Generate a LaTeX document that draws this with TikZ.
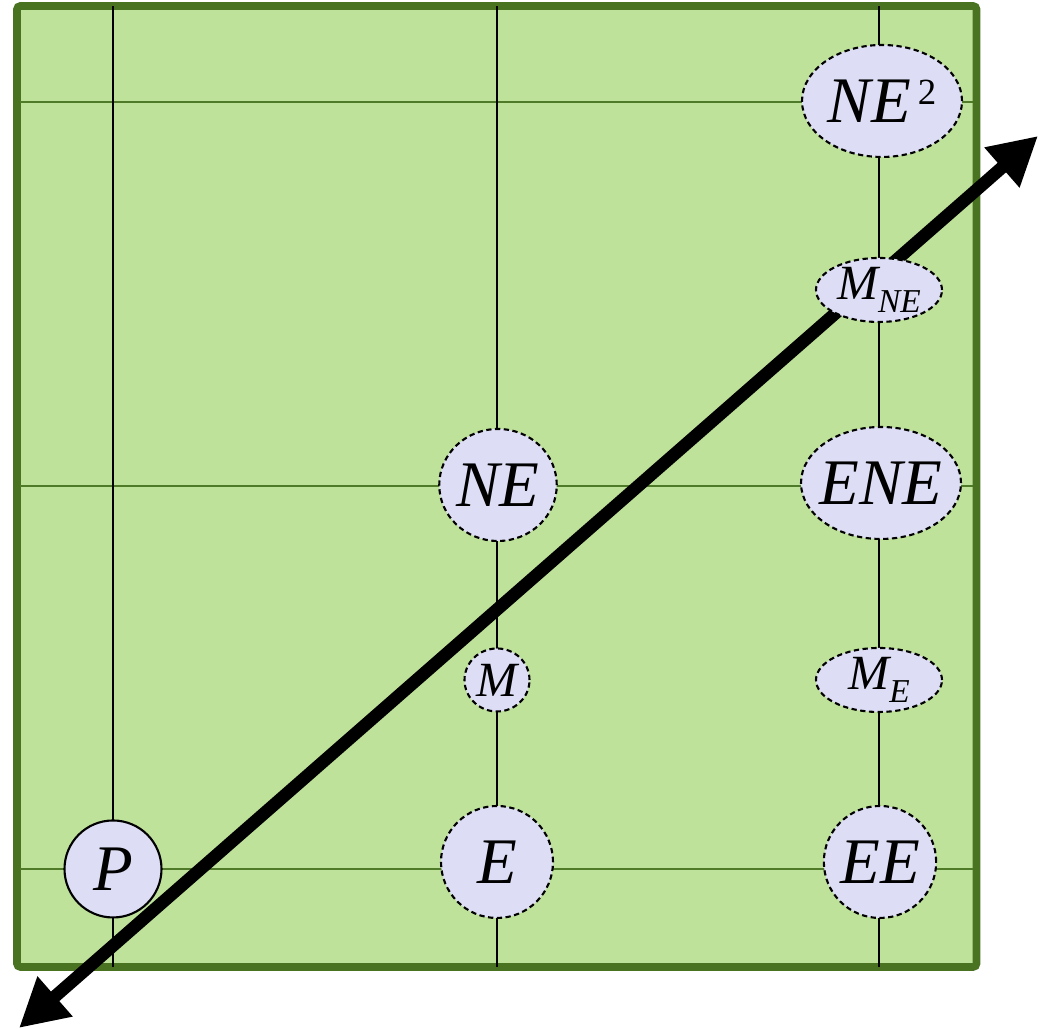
\documentclass[tikz,border=0pt]{standalone}
\usepackage{fontspec}
\setmainfont{Liberation Serif}
\usepackage{xcolor}
\usetikzlibrary{shapes.geometric,arrows.meta}
\definecolor{gridfill}{HTML}{BFE29B}
\definecolor{gridborder}{HTML}{4A7321}
\definecolor{gridrow}{HTML}{4F7A28}
\definecolor{pixfill}{HTML}{DDDEF5}
\newcommand{\lowtext}[1]{\raisebox{-3.6pt}{\fontsize{9.5}{10}\selectfont\textit{#1}}}

\begin{document}
\begin{tikzpicture}[
    pixel/.style={ellipse,fill=pixfill,draw=black,line width=0.6pt,
      dash pattern=on 1.5pt off 1pt,inner sep=0pt},
    big/.style={pixel,minimum width=1.12cm,minimum height=1.12cm,font=\fontsize{18.5}{20}\selectfont\itshape},
    wide/.style={pixel,minimum width=1.6cm,minimum height=1.12cm,font=\fontsize{18.5}{20}\selectfont\itshape},
    mid/.style={pixel,minimum width=1.26cm,minimum height=0.64cm,font=\fontsize{14}{16}\selectfont\itshape}]
  \useasboundingbox (0,0) rectangle (10.39,10.29);
  % square
  \draw[fill=gridfill,draw=gridborder,line width=2.2pt,rounded corners=1pt] (0.17,0.62) rectangle (9.765,10.23);
  % grid
  \foreach \y in {1.60,5.43,9.27}
    \draw[draw=gridrow,line width=0.5pt] (0.2,\y) -- (9.73,\y);
  \foreach \x in {1.13,4.97,8.79}
    \draw[line width=0.4pt] (\x,0.62) -- (\x,10.23);
  % scan line
  \coordinate (tail) at (0.19,0.01);
  \coordinate (head) at (10.38,8.93);
  \draw[line width=3.6pt,{Triangle[length=0.48cm,width=0.5cm]}-{Triangle[length=0.48cm,width=0.5cm]}] (tail) -- (head);
  % pixels
  \node[circle,fill=pixfill,draw=black,line width=0.6pt,minimum size=0.97cm,inner sep=0pt,
        font=\fontsize{18.5}{20}\selectfont\itshape] (P) at (1.13,1.60) {P};
  \node[big] (E) at (4.97,1.67) {E};
  \node[big] (EE) at (8.80,1.67) {EE};
  \node[pixel,minimum width=0.65cm,minimum height=0.63cm,font=\fontsize{14}{16}\selectfont\itshape] (M) at (4.97,3.49) {M};
  \node[mid] (ME) at (8.79,3.49) {M\lowtext{E}};
  \node[big] (NE) at (4.98,5.44) {NE};
  \node[wide,inner xsep=-0.06cm] (ENE) at (8.81,5.46) {ENE};
  \node[mid] (MNE) at (8.79,7.39) {M\lowtext{NE}};
  \node[wide] (NE2) at (8.82,9.28) {NE\hspace{2pt}\raisebox{5pt}{\fontsize{10.5}{11}\selectfont\upshape 2}};
\end{tikzpicture}
\end{document}
